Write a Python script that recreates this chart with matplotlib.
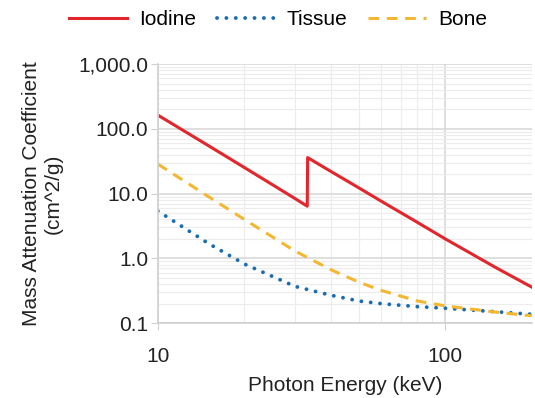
import numpy as np
import matplotlib.pyplot as plt
from matplotlib.ticker import FixedLocator, FuncFormatter, LogLocator, NullFormatter

# Energies (keV) and mass attenuation coefficients (cm^2/g)
iodine_energy = [10, 15, 20, 25, 30, 33.1, 33.2, 40, 50, 60, 80, 100, 150, 200]
iodine_mu = [163, 55, 25.3, 13.8, 8.4, 6.4, 36, 22, 12.3, 7.6, 3.6, 2.0, 0.72, 0.36]

tissue_energy = [10, 15, 20, 30, 40, 50, 60, 80, 100, 150, 200]
tissue_mu = [5.4, 1.7, 0.82, 0.37, 0.27, 0.22, 0.2, 0.18, 0.17, 0.15, 0.137]

bone_energy = [10, 15, 20, 30, 40, 50, 60, 80, 100, 150, 200]
bone_mu = [28.6, 9.0, 4.0, 1.3, 0.67, 0.43, 0.32, 0.22, 0.185, 0.148, 0.13]

plt.rcParams['font.family'] = ['Liberation Sans', 'DejaVu Sans']
fs = 15

fig = plt.figure(figsize=(5.35, 3.98), dpi=100)
ax = fig.add_axes([0.295, 0.188, 0.699, 0.651])

ax.plot(iodine_energy, iodine_mu, color='#e3262b', lw=2.2, label='Iodine')
ax.plot(tissue_energy, tissue_mu, color='#1a6db3', lw=2.8, linestyle=(0, (0.01, 2.4)),
        dash_capstyle='round', label='Tissue')
ax.plot(bone_energy, bone_mu, color='#f5b731', lw=2.2, linestyle=(0, (3.5, 2.5)), label='Bone')

ax.set_xscale('log')
ax.set_yscale('log')
ax.set_xlim(10, 200)
ax.set_ylim(0.1, 1000)

ax.xaxis.set_major_locator(FixedLocator([10, 100]))
ax.xaxis.set_major_formatter(FuncFormatter(lambda v, p: f'{v:.0f}'))
ax.xaxis.set_minor_locator(LogLocator(base=10, subs=np.arange(2, 10)))
ax.xaxis.set_minor_formatter(NullFormatter())
ax.yaxis.set_major_locator(FixedLocator([0.1, 1, 10, 100, 1000]))
ax.yaxis.set_major_formatter(FuncFormatter(lambda v, p: f'{v:,.1f}'))
ax.yaxis.set_minor_locator(LogLocator(base=10, subs=np.arange(2, 10)))
ax.yaxis.set_minor_formatter(NullFormatter())

ax.grid(True, which='major', color='#d9d9d9', lw=1.2)
ax.grid(True, which='minor', color='#ececec', lw=0.8)
ax.set_axisbelow(True)

for s in ['top', 'right']:
    ax.spines[s].set_visible(False)
for s in ['left', 'bottom']:
    ax.spines[s].set_color('#d0d0d0')
    ax.spines[s].set_linewidth(1.2)

ax.tick_params(which='major', length=5, color='#d0d0d0', labelsize=fs, colors='#222222')
ax.tick_params(which='minor', length=0)
ax.tick_params(axis='x', pad=12)
ax.tick_params(axis='y', pad=2)

ax.set_xlabel('Photon Energy (keV)', fontsize=fs, color='#222222', labelpad=7)
ax.set_ylabel('Mass Attenuation Coefficient\n(cm^2/g)', fontsize=fs, color='#222222', labelpad=11)

fig.legend(loc='upper center', bbox_to_anchor=(0.52, 1.022), ncol=3, frameon=False,
           fontsize=fs, handlelength=2.75, columnspacing=1.0, handletextpad=0.6)

fig.savefig('out.png', dpi=100)
